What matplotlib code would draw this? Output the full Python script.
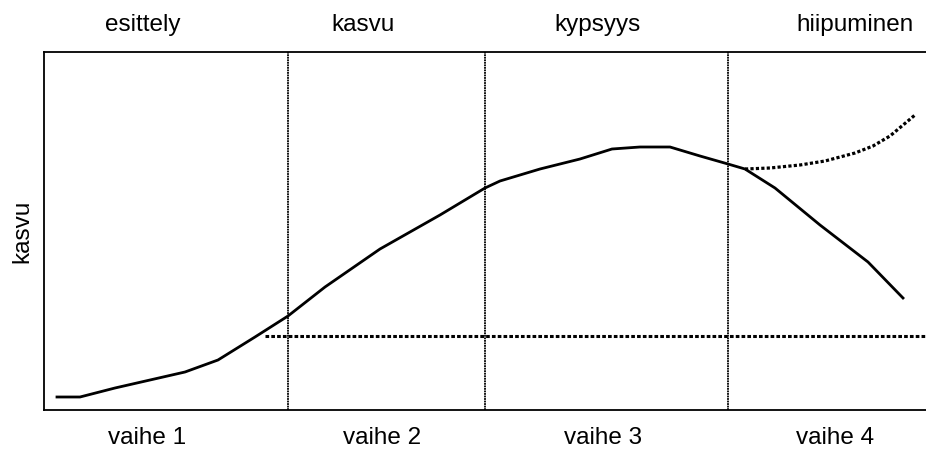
import matplotlib
matplotlib.use("Agg")
import matplotlib.pyplot as plt

plt.rcParams['font.family'] = ['Liberation Sans', 'DejaVu Sans']

# main curve (time, growth)
curve_x = [13, 36, 71, 106, 141, 174, 211, 244, 281, 336, 396, 441, 456, 496,
           536, 568, 596, 626, 656, 684, 701, 731, 776, 824, 859]
curve_y = [13, 13, 22, 30, 38, 50, 73, 94, 123, 161, 195, 222, 229, 241,
           251, 261, 263, 263, 254, 246, 241, 222, 185, 148, 112]

# dotted renewal branch
renew_x = [701, 726, 756, 781, 811, 829, 846, 871]
renew_y = [241, 242, 245, 249, 257, 264, 274, 295]

# break-even level
level_y = 74
level_x0 = 221

phase_bounds = [244, 441, 684]

top_labels = ["esittely", "kasvu", "kypsyys", "hiipuminen"]
top_pos = [99, 319, 553, 811]
bottom_labels = ["vaihe 1", "vaihe 2", "vaihe 3", "vaihe 4"]
bottom_pos = [103, 338, 559, 791]

fig = plt.figure(figsize=(9.26, 4.49), dpi=100)
ax = fig.add_axes([44 / 926, 39 / 449, 882 / 926, 358 / 449])
ax.set_xlim(0, 882)
ax.set_ylim(0, 358)

ax.plot(curve_x, curve_y, color="black", lw=2, solid_joinstyle="miter")
ax.plot(renew_x, renew_y, color="black", lw=2.3, linestyle=(0, (1, 0.7)))
ax.plot([level_x0, 882], [level_y, level_y], color="black", lw=2.2,
        linestyle=(0, (1.2, 0.7)))
for b in phase_bounds:
    ax.axvline(b, color="black", lw=1.3, linestyle=(0, (1, 0.4)))

for lab, x in zip(top_labels, top_pos):
    ax.text(x, 1.075, lab, transform=ax.get_xaxis_transform(),
            ha="center", va="center", fontsize=17.5)
for lab, x in zip(bottom_labels, bottom_pos):
    ax.text(x, -0.078, lab, transform=ax.get_xaxis_transform(),
            ha="center", va="center", fontsize=17.5)

ax.set_ylabel("kasvu", fontsize=17.5, labelpad=8)
ax.set_xticks([])
ax.set_yticks([])
ax.spines["right"].set_visible(False)
for s in ["left", "top", "bottom"]:
    ax.spines[s].set_linewidth(1.3)

fig.savefig("out.png", dpi=100)
